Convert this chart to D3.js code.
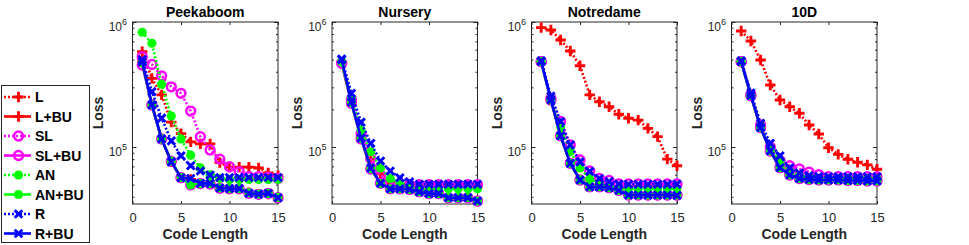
<!DOCTYPE html>
<html>
<head>
<meta charset="utf-8">
<script src="https://cdn.jsdelivr.net/npm/d3@7"></script>
<style>
  body { margin: 0; background: #fff; }
  svg { display: block; font-family: "Liberation Sans", Arial, Helvetica, sans-serif; }
</style>
</head>
<body>
<svg id="chart" width="969" height="245"></svg>
<script>
// x values and ticks
const codeLength = [1, 2, 3, 4, 5, 6, 7, 8, 9, 10, 11, 12, 13, 14, 15];
const xTicks = [0, 5, 10, 15];
const yMajor = [1e5, 1e6];
const yMinor = [4e4, 5e4, 6e4, 7e4, 8e4, 9e4, 2e5, 3e5, 4e5, 5e5, 6e5, 7e5, 8e5, 9e5];
const yDomain = [35e3, 1e6];

const seriesNames = ['L', 'L+BU', 'SL', 'SL+BU', 'AN', 'AN+BU', 'R', 'R+BU'];
const panelTitles = ['Peekaboom', 'Nursery', 'Notredame', '10D'];

// Peekaboom
const peekL    = [578e3, 354e3, 261e3, 158e3, 128e3, 110e3, 106e3, 106e3, 75e3, 69e3, 69e3, 69e3, 68e3, 62e3, 59e3];
const peekLBU  = [480e3, 217e3, 116e3, 76e3, 57e3, 55e3, 51e3, 51e3, 47e3, 46e3, 46e3, 43e3, 42e3, 42e3, 39.5e3];
const peekSL   = [528e3, 458e3, 371e3, 303e3, 269e3, 194e3, 121e3, 94.6e3, 80e3, 69.5e3, 63.5e3, 58e3, 58e3, 57.5e3, 56e3];
const peekSLBU = [453e3, 217e3, 116e3, 77e3, 56.8e3, 49.7e3, 51e3, 50.5e3, 46.7e3, 46.4e3, 46.4e3, 42.6e3, 41.8e3, 42.6e3, 39.3e3];
const peekAN   = [828e3, 676e3, 318e3, 177e3, 116e3, 86e3, 68e3, 60e3, 56e3, 55e3, 55e3, 55e3, 55e3, 55e3, 55e3];
const peekANBU = [470e3, 217e3, 116e3, 77e3, 57e3, 49.7e3, 51e3, 51e3, 47e3, 46.5e3, 46.5e3, 43e3, 42e3, 42.5e3, 39.5e3];
const peekR    = [500e3, 277e3, 170e3, 112e3, 85e3, 70.8e3, 64.3e3, 59.7e3, 57e3, 57e3, 57e3, 57e3, 57e3, 57e3, 57e3];
const peekRBU  = [480e3, 217e3, 116e3, 76e3, 56.8e3, 56e3, 51.2e3, 51.2e3, 47e3, 46.5e3, 46.5e3, 42.6e3, 42e3, 42.6e3, 39.3e3];

// Nursery
const nursL    = [470e3, 235e3, 125e3, 80e3, 61e3, 52e3, 50e3, 49.5e3, 49e3, 49e3, 49e3, 49e3, 49e3, 49e3, 49e3];
const nursLBU  = [475e3, 226e3, 117e3, 67e3, 51e3, 46.3e3, 46.3e3, 45.8e3, 43.8e3, 42.4e3, 42.4e3, 39.3e3, 39.3e3, 39.3e3, 37e3];
const nursSL   = [470e3, 240e3, 128e3, 81e3, 59.7e3, 52e3, 50e3, 50e3, 50e3, 50e3, 50e3, 50e3, 50e3, 50e3, 50e3];
const nursSLBU = [467e3, 224e3, 116e3, 66.7e3, 51.2e3, 46.3e3, 46.3e3, 45.8e3, 43.8e3, 42.4e3, 42.4e3, 39.3e3, 39.3e3, 39.3e3, 37e3];
const nursAN   = [480e3, 246e3, 137e3, 91.6e3, 68e3, 56e3, 51e3, 48e3, 46.3e3, 46.3e3, 46.3e3, 46.3e3, 46.3e3, 46.3e3, 46.3e3];
const nursANBU = [478e3, 226e3, 117e3, 67e3, 51e3, 46.3e3, 46.3e3, 45.8e3, 43.8e3, 42.4e3, 42.4e3, 39.3e3, 39.3e3, 39.3e3, 37e3];
const nursR    = [506e3, 269e3, 158e3, 107e3, 77.3e3, 64.3e3, 56.8e3, 52.7e3, 50.3e3, 50.3e3, 50.3e3, 50.3e3, 50.3e3, 50.3e3, 50.3e3];
const nursRBU  = [500e3, 228e3, 118e3, 68e3, 51.2e3, 46.3e3, 46.3e3, 45.8e3, 43.8e3, 42.4e3, 42.4e3, 39.3e3, 39.3e3, 39.3e3, 37e3];

// Notredame
const notrL    = [901e3, 863e3, 718e3, 586e3, 447e3, 261e3, 230e3, 210e3, 183e3, 170e3, 164e3, 141e3, 121e3, 80e3, 70.8e3];
const notrLBU  = [482e3, 238e3, 123e3, 74e3, 54.5e3, 48e3, 48e3, 47.3e3, 45e3, 41.3e3, 41.3e3, 41.3e3, 41.3e3, 41.3e3, 41.3e3];
const notrSL   = [482e3, 245e3, 160e3, 104e3, 78.7e3, 64.3e3, 56e3, 54e3, 50.6e3, 50.6e3, 50.6e3, 50.6e3, 50.6e3, 50.6e3, 50.6e3];
const notrSLBU = [482e3, 238e3, 123e3, 74e3, 54.5e3, 48e3, 48e3, 47.3e3, 45e3, 41.3e3, 41.3e3, 41.3e3, 41.3e3, 41.3e3, 41.3e3];
const notrAN   = [482e3, 245e3, 145e3, 92e3, 68e3, 55.6e3, 51e3, 48e3, 46.3e3, 46.3e3, 46.3e3, 46.3e3, 46.3e3, 46.3e3, 46.3e3];
const notrANBU = [482e3, 238e3, 123e3, 74e3, 54.5e3, 48e3, 48e3, 47.3e3, 45e3, 41.3e3, 41.3e3, 41.3e3, 41.3e3, 41.3e3, 41.3e3];
const notrR    = [490e3, 255e3, 160e3, 104e3, 76e3, 63.8e3, 56e3, 53e3, 50.6e3, 50.3e3, 50.3e3, 50.3e3, 50.3e3, 50.3e3, 50.3e3];
const notrRBU  = [484e3, 238e3, 123e3, 74e3, 54.5e3, 48e3, 48e3, 47.3e3, 45e3, 41.3e3, 41.3e3, 41.3e3, 41.3e3, 41.3e3, 41e3];

// 10D
const tenL    = [847e3, 705e3, 497e3, 313e3, 238e3, 210e3, 186e3, 150e3, 127e3, 98.7e3, 87.3e3, 79.7e3, 75.6e3, 71.9e3, 66.3e3];
const tenLBU  = [482e3, 257e3, 143e3, 92.9e3, 68.3e3, 59.7e3, 56e3, 55e3, 54.5e3, 54.5e3, 54.5e3, 54e3, 54e3, 53.5e3, 53.5e3];
const tenSL   = [482e3, 262e3, 150e3, 100e3, 78e3, 70.8e3, 66.7e3, 63e3, 60e3, 57.8e3, 57.8e3, 57.8e3, 57.8e3, 57.8e3, 57.8e3];
const tenSLBU = [482e3, 257e3, 143e3, 92.9e3, 68.3e3, 59.7e3, 56e3, 55e3, 54.5e3, 54.5e3, 54.5e3, 54e3, 54e3, 53.5e3, 53.5e3];
const tenAN   = [482e3, 260e3, 148e3, 98e3, 78e3, 64e3, 59e3, 57e3, 56e3, 56e3, 56e3, 56e3, 56e3, 56e3, 56e3];
const tenANBU = [482e3, 257e3, 143e3, 92.9e3, 68.3e3, 59.7e3, 56e3, 55e3, 54.5e3, 54.5e3, 54.5e3, 54e3, 54e3, 53.5e3, 53.5e3];
const tenR    = [490e3, 270e3, 155e3, 107e3, 85e3, 68e3, 62e3, 59e3, 58e3, 57.8e3, 57.8e3, 57.8e3, 57.8e3, 57.8e3, 57.8e3];
const tenRBU  = [484e3, 257e3, 143e3, 92.9e3, 68.3e3, 59.7e3, 56e3, 55e3, 54.5e3, 54.5e3, 54.5e3, 54e3, 54e3, 53.5e3, 53.5e3];

const panelData = [
    [peekL, peekLBU, peekSL, peekSLBU, peekAN, peekANBU, peekR, peekRBU],
    [nursL, nursLBU, nursSL, nursSLBU, nursAN, nursANBU, nursR, nursRBU],
    [notrL, notrLBU, notrSL, notrSLBU, notrAN, notrANBU, notrR, notrRBU],
    [tenL, tenLBU, tenSL, tenSLBU, tenAN, tenANBU, tenR, tenRBU]
];

// styles per series (same order as seriesNames)
const STYLE = [
    { color: '#ff0000', dash: '2,2', marker: 'plus' },
    { color: '#ff0000', dash: null,  marker: 'plus' },
    { color: '#ff00ff', dash: '2,2', marker: 'circle' },
    { color: '#ff00ff', dash: null,  marker: 'circle' },
    { color: '#00ff00', dash: '2,2', marker: 'dot' },
    { color: '#00ff00', dash: null,  marker: 'dot' },
    { color: '#0000ff', dash: '2,2', marker: 'cross' },
    { color: '#0000ff', dash: null,  marker: 'cross' }
];

const AXIS_COLOR = '#262626';
const panelLefts = [132.5, 332, 531.5, 731.5];
const plotW = 145.5;
const plotTop = 22, plotBottom = 204;

const svg = d3.select('#chart');
svg.append('rect').attr('width', 969).attr('height', 245).attr('fill', '#fff');

// draw one marker at (px, py)
function drawMarker(g, kind, color, px, py) {
    if (kind === 'plus') {
        g.append('path')
            .attr('d', `M${px - 5.2},${py}H${px + 5.2}M${px},${py - 5.2}V${py + 5.2}`)
            .attr('stroke', color).attr('stroke-width', 2.9).attr('fill', 'none');
    } else if (kind === 'circle') {
        g.append('circle').attr('cx', px).attr('cy', py).attr('r', 4.4)
            .attr('stroke', color).attr('stroke-width', 2.5).attr('fill', 'none');
    } else if (kind === 'dot') {
        g.append('circle').attr('cx', px).attr('cy', py).attr('r', 4.6)
            .attr('fill', color);
    } else if (kind === 'cross') {
        g.append('path')
            .attr('d', `M${px - 3.8},${py - 3.8}L${px + 3.8},${py + 3.8}M${px - 3.8},${py + 3.8}L${px + 3.8},${py - 3.8}`)
            .attr('stroke', color).attr('stroke-width', 2.9).attr('fill', 'none');
    }
}

function drawPanel(idx) {
    const left = panelLefts[idx];
    const x = d3.scaleLinear().domain([0, 15]).range([left, left + plotW]);
    const y = d3.scaleLog().domain(yDomain).range([plotBottom, plotTop]);
    const g = svg.append('g');

    // box
    g.append('rect')
        .attr('x', left).attr('y', plotTop)
        .attr('width', plotW).attr('height', plotBottom - plotTop)
        .attr('fill', '#fff').attr('stroke', AXIS_COLOR).attr('stroke-width', 1);

    // x axes (ticks inward, top and bottom)
    const xb = g.append('g').attr('transform', `translate(0,${plotBottom})`)
        .call(d3.axisBottom(x).tickValues(xTicks).tickSizeInner(-3).tickSizeOuter(0).tickPadding(9));
    xb.select('.domain').remove();
    xb.selectAll('line').attr('stroke', AXIS_COLOR);
    xb.selectAll('text').attr('font-size', 13).attr('fill', AXIS_COLOR)
        .attr('font-family', '"Liberation Sans", Arial, sans-serif');
    const xt = g.append('g').attr('transform', `translate(0,${plotTop})`)
        .call(d3.axisTop(x).tickValues(xTicks).tickSizeInner(-3).tickSizeOuter(0).tickFormat(''));
    xt.select('.domain').remove();
    xt.selectAll('line').attr('stroke', AXIS_COLOR);

    // y axes: major and minor ticks, left and right
    [[d3.axisLeft, left], [d3.axisRight, left + plotW]].forEach(([ax, pos]) => {
        const maj = g.append('g').attr('transform', `translate(${pos},0)`)
            .call(ax(y).tickValues(yMajor).tickSizeInner(-4).tickSizeOuter(0).tickFormat(''));
        maj.select('.domain').remove();
        maj.selectAll('line').attr('stroke', AXIS_COLOR);
        const mnr = g.append('g').attr('transform', `translate(${pos},0)`)
            .call(ax(y).tickValues(yMinor).tickSizeInner(-2).tickSizeOuter(0).tickFormat(''));
        mnr.select('.domain').remove();
        mnr.selectAll('line').attr('stroke', AXIS_COLOR);
    });

    // y tick labels 10^5, 10^6
    yMajor.forEach(v => {
        const t = g.append('text')
            .attr('x', left - 5.5).attr('y', y(v) + 8.5)
            .attr('text-anchor', 'end').attr('fill', AXIS_COLOR).attr('font-size', 12);
        t.append('tspan').text('10');
        t.append('tspan').attr('dy', -5.5).attr('font-size', 9).text(Math.round(Math.log10(v)));
    });

    // series
    const line = d3.line().x((d, i) => x(codeLength[i])).y(d => y(d));
    panelData[idx].forEach((vals, s) => {
        const st = STYLE[s];
        const sg = g.append('g');
        sg.append('path').datum(vals)
            .attr('d', line)
            .attr('fill', 'none').attr('stroke', st.color).attr('stroke-width', 2.6)
            .attr('stroke-dasharray', st.dash);
        vals.forEach((v, i) => drawMarker(sg, st.marker, st.color, x(codeLength[i]), y(v)));
    });

    // title and labels
    g.append('text')
        .attr('x', left + plotW / 2).attr('y', 16.5)
        .attr('text-anchor', 'middle').attr('font-size', 14).attr('font-weight', 'bold')
        .attr('fill', '#000').text(panelTitles[idx]);
    g.append('text')
        .attr('x', left + plotW / 2).attr('y', 238.5)
        .attr('text-anchor', 'middle').attr('font-size', 14).attr('font-weight', 'bold')
        .attr('fill', AXIS_COLOR).text('Code Length');
    g.append('text')
        .attr('transform', `translate(${left - 30},${(plotTop + plotBottom) / 2}) rotate(-90)`)
        .attr('text-anchor', 'middle').attr('font-size', 14).attr('font-weight', 'bold')
        .attr('fill', AXIS_COLOR).text('Loss');
}

panelTitles.forEach((t, i) => drawPanel(i));

// legend
const lg = svg.append('g');
lg.append('rect').attr('x', 1.5).attr('y', 85.5).attr('width', 88).attr('height', 157)
    .attr('fill', '#fff').attr('stroke', AXIS_COLOR).attr('stroke-width', 1);
seriesNames.forEach((name, i) => {
    const st = STYLE[i];
    const ly = 97 + i * 19.5;
    lg.append('line').attr('x1', 4).attr('x2', 31).attr('y1', ly).attr('y2', ly)
        .attr('stroke', st.color).attr('stroke-width', 2.6).attr('stroke-dasharray', st.dash);
    drawMarker(lg, st.marker, st.color, 18.5, ly);
    lg.append('text').attr('x', 35).attr('y', ly + 5)
        .attr('font-size', 14).attr('font-weight', 'bold').attr('fill', '#000').text(name);
});
</script>
</body>
</html>
